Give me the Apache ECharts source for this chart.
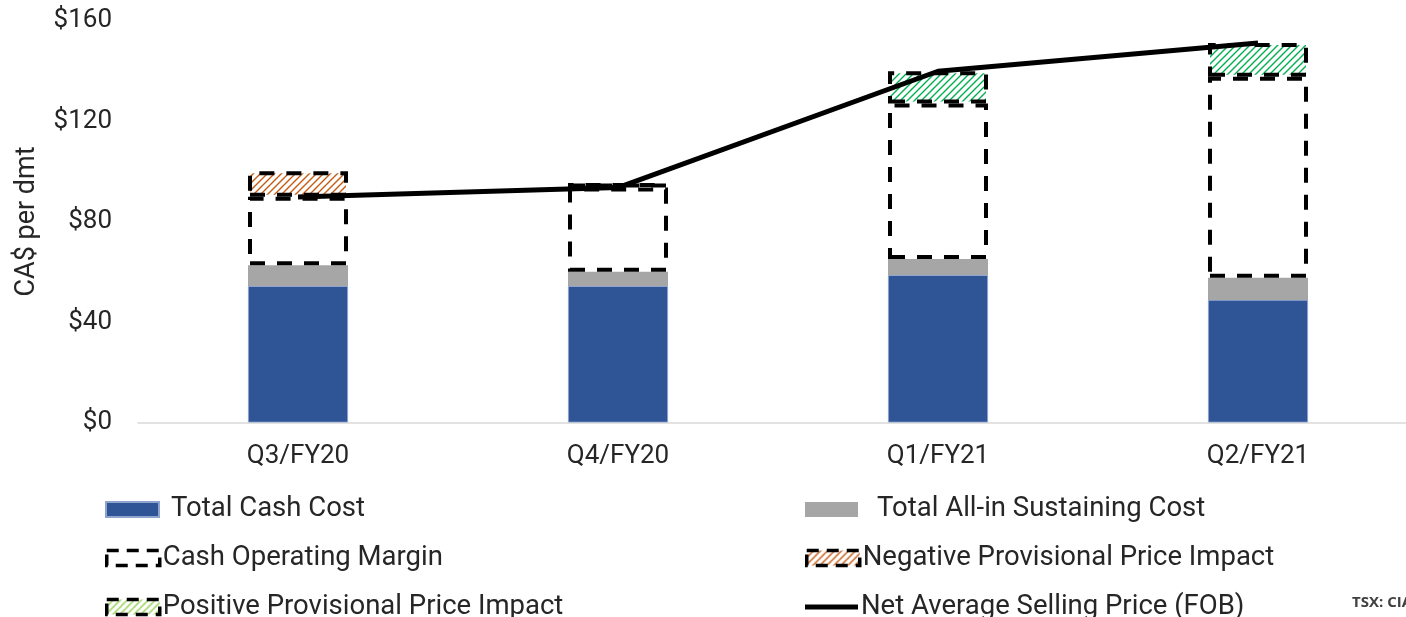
<!DOCTYPE html>
<html>
<head>
<meta charset="utf-8">
<script src="https://cdn.jsdelivr.net/npm/echarts@6/dist/echarts.min.js"></script>
<style>
  html, body { margin: 0; padding: 0; background: #ffffff; overflow: hidden; }
  #chart { width: 1406px; height: 617px; }
</style>
</head>
<body>
<div id="chart"></div>
<script>
// Quarterly unit economics, CA$ per dry metric tonne
const categories = ['Q3/FY20', 'Q4/FY20', 'Q1/FY21', 'Q2/FY21'];
const totalCashCost = [54.3, 54.3, 58.7, 48.8];
const sustainingCostAdd = [8.3, 5.7, 6.4, 8.8];      // all-in sustaining cost above cash cost
const cashOperatingMargin = [27.3, 33.5, 61.9, 80.0];
const negativeImpact = [10.1, 1.8, null, null];
const positiveImpact = [null, null, 12.8, 13.4];
const netSellingPrice = [89.8, 93.5, 139.8, 151.0];
const yTicks = [0, 40, 80, 120, 160];

const FONT = 'Roboto';
const TEXT = '#262626';

// Diagonal hatch fill used for the provisional price boxes
function hatch(color, size) {
  const c = document.createElement('canvas');
  c.width = c.height = size;
  const ctx = c.getContext('2d');
  ctx.fillStyle = '#ffffff';
  ctx.fillRect(0, 0, size, size);
  ctx.strokeStyle = color;
  ctx.lineWidth = 1.4;
  ctx.beginPath();
  ctx.moveTo(-1, size + 1); ctx.lineTo(size + 1, -1);
  ctx.moveTo(-1, 1); ctx.lineTo(1, -1);
  ctx.moveTo(size - 1, size + 1); ctx.lineTo(size + 1, size - 1);
  ctx.stroke();
  return c;
}
const orangeHatch = { image: hatch('#C55A11', 7), repeat: 'repeat' };
const greenHatch = { image: hatch('#00B050', 7), repeat: 'repeat' };
const lightGreenHatch = { image: hatch('#92D050', 7), repeat: 'repeat' };

const boxStyle = (fill) => ({
  color: fill,
  borderColor: '#000000',
  borderWidth: 4,
  borderType: [15, 12]
});
const legendBox = (fill) => ({
  color: fill,
  borderColor: '#000000',
  borderWidth: 3.5,
  borderType: [12, 8]
});

const legendText = { fontFamily: FONT, fontSize: 27.5, color: TEXT, lineHeight: 30 };
function legendAt(name, left, top, gap, extra) {
  return Object.assign({
    data: [name],
    left: left,
    top: top,
    padding: 0,
    itemWidth: 53,
    itemHeight: 15,
    icon: 'rect',
    selectedMode: false,
    textStyle: Object.assign({}, legendText, { padding: [0, 0, 0, gap] })
  }, extra || {});
}

const chart = echarts.init(document.getElementById('chart'), null, { renderer: 'canvas' });

chart.setOption({
  animation: false,
  backgroundColor: '#ffffff',
  grid: {
    left: 138, width: 1280, top: 20.5, bottom: 194.5,
    containLabel: false,
    outerBoundsMode: 'none'
  },
  xAxis: {
    type: 'category',
    data: categories,
    axisLine: { show: true, lineStyle: { color: '#D9D9D9', width: 1.5 } },
    axisTick: { show: false },
    axisLabel: { margin: 21, fontFamily: FONT, fontSize: 26, color: TEXT }
  },
  yAxis: {
    type: 'value',
    min: yTicks[0],
    max: yTicks[yTicks.length - 1],
    interval: 40,
    name: 'CA$ per dmt',
    nameLocation: 'middle',
    nameRotate: 90,
    nameGap: 97,
    nameTextStyle: { fontFamily: FONT, fontSize: 27, color: TEXT },
    axisLine: { show: false },
    axisTick: { show: false },
    splitLine: { show: false },
    axisLabel: {
      margin: 26,
      fontFamily: FONT,
      fontSize: 26,
      color: TEXT,
      formatter: (v) => '$' + v
    }
  },
  legend: [
    legendAt('Total Cash Cost', 105, 494.5, 7),
    legendAt('Total All-in Sustaining Cost', 805, 494.5, 14),
    legendAt('Cash Operating Margin', 105, 543, -2, {
      itemStyle: legendBox('rgba(255,255,255,0)')
    }),
    legendAt('Negative Provisional Price Impact', 805, 543, -2, {
      itemStyle: legendBox(orangeHatch)
    }),
    legendAt('Positive Provisional Price Impact', 105, 592, -2, {
      itemStyle: legendBox(lightGreenHatch)
    }),
    legendAt('Net Average Selling Price (FOB)', 805, 592, -2, {
      itemHeight: 5,
      itemStyle: { color: '#000000' }
    })
  ],
  graphic: [{
    type: 'text',
    left: 1352,
    top: 595,
    style: { text: 'TSX: CIA', fontFamily: 'Open Sans', fontWeight: 'bold', fontSize: 15, fill: '#404040' }
  }],
  series: [
    {
      name: 'Total Cash Cost', type: 'bar', stack: 'cost', barWidth: 100,
      itemStyle: { color: '#2F5597', borderColor: '#8EA4CF', borderWidth: 0.8 },
      data: totalCashCost
    },
    {
      name: 'Total All-in Sustaining Cost', type: 'bar', stack: 'cost',
      itemStyle: { color: '#A6A6A6' },
      data: sustainingCostAdd
    },
    {
      name: 'Cash Operating Margin', type: 'bar', stack: 'cost',
      itemStyle: boxStyle('rgba(255,255,255,0)'),
      data: cashOperatingMargin
    },
    {
      name: 'Negative Provisional Price Impact', type: 'bar', stack: 'cost',
      itemStyle: boxStyle(orangeHatch),
      data: negativeImpact
    },
    {
      name: 'Positive Provisional Price Impact', type: 'bar', stack: 'cost',
      itemStyle: boxStyle(greenHatch),
      data: positiveImpact
    },
    {
      name: 'Net Average Selling Price (FOB)', type: 'line', z: 5,
      symbol: 'none',
      lineStyle: { color: '#000000', width: 5 },
      itemStyle: { color: '#000000' },
      data: netSellingPrice
    }
  ]
});
</script>
</body>
</html>
